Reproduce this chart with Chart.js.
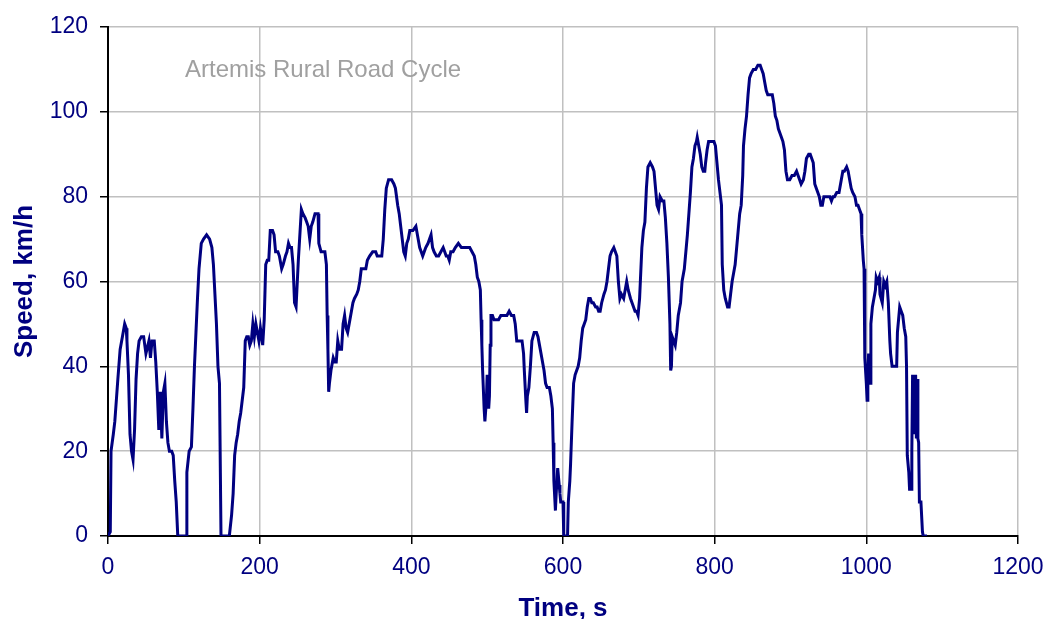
<!DOCTYPE html>
<html>
<head>
<meta charset="utf-8">
<title>Artemis Rural Road Cycle</title>
<script src="https://cdn.jsdelivr.net/npm/chart.js@4.4.1/dist/chart.umd.min.js"></script>
<style>
  html, body { margin: 0; padding: 0; background: #fff; }
  canvas { display: block; }
</style>
</head>
<body>
<canvas id="cycleChart" width="1047" height="619"></canvas>
<script>
// time (s) and speed (km/h)
const timeS = [
  0, 3, 4, 7, 9, 11, 13, 16, 19, 22, 24, 25, 27, 29, 31, 33, 35, 37, 39, 41, 44, 47, 50, 54, 56, 58, 61, 63, 65, 67, 69, 71, 73, 75, 77, 79, 81, 84, 86, 88, 90, 92,
  103, 104, 107, 110, 112, 114, 116, 118, 120, 123, 126, 130, 134, 137, 139, 141, 143, 145, 147, 149,
  160, 163, 165, 167, 169, 171, 173, 175, 177, 179, 181, 183, 185, 187, 189, 191, 193, 195, 197, 199,
  201, 204, 206, 208, 210, 212, 214, 217, 219, 221, 224, 226, 229, 231, 234, 236, 238, 240, 242, 244, 246, 248, 249,
  251, 253, 255, 257, 260, 262, 264, 266, 268, 270, 273, 277, 278, 281, 284, 286, 288, 289, 290, 291, 292, 294, 297, 299,
  301, 303, 305, 308, 310, 312, 314, 316, 319, 321, 323, 325, 328, 330, 332, 334, 336, 340, 342, 345, 349,
  353, 355, 358, 361, 363, 365, 367, 370, 374, 377, 379, 382, 384, 386, 388, 390, 392, 394, 396, 398,
  402, 406, 409, 411, 413, 415, 417, 419, 422, 424, 426, 428, 430, 433, 436, 439, 442, 444, 446, 448, 450,
  452, 455, 458, 462, 466, 470, 474, 477, 480, 483, 485, 487, 489, 491, 492, 493, 494, 496, 497, 499,
  500, 502, 503, 504, 505, 507, 509, 512, 515, 518, 522, 526, 529, 532, 535, 537, 539, 542, 546, 548, 549,
  551, 552, 553, 555, 557, 559, 562, 565, 567, 569, 571, 573, 575, 577, 579, 582, 584, 586, 587, 588, 590,
  591, 593, 595, 596, 597, 600, 601, 606, 607, 609, 610, 612, 614, 616, 618, 620, 622, 624, 626, 628, 630,
  632, 634, 636, 638, 640, 643, 645, 647, 649, 651, 654, 656, 658, 660, 662, 664, 667, 669, 671, 673, 675,
  677, 680, 682, 684, 686, 689, 691, 693, 695, 697, 699, 701, 702, 704, 706, 708, 710, 712, 715, 718, 720,
  722, 724, 726, 728, 731, 733, 735, 737, 739, 741, 742, 743, 744, 746, 748, 750, 752, 755, 757, 760, 762,
  764, 766, 768, 770, 772, 774, 776, 777, 779, 781, 783, 785, 787, 788, 790, 792, 795, 799, 801, 803, 805,
  807, 809, 810, 812, 814, 817, 819, 821, 823, 825, 827, 829, 831, 833, 835, 837, 838, 840, 842, 844, 846,
  848, 851, 854, 857, 860, 862, 864, 866, 868, 870, 873, 876, 878, 880, 882, 884, 886, 888, 890, 892, 894,
  896, 899, 902, 905, 908, 910, 912, 914, 917, 919, 921, 924, 926, 928, 930, 932, 934, 936, 938, 940, 942,
  944, 946, 949, 952, 954, 956, 958, 961, 964, 967, 969, 971, 974, 976, 978, 980, 982, 985, 987, 989, 991,
  993, 994, 996, 997, 998, 1000, 1001, 1002, 1003, 1004, 1005, 1006, 1008, 1010, 1012, 1013, 1015, 1017, 1018, 1021, 1023,
  1025, 1027, 1029, 1031, 1032, 1034, 1037, 1040, 1041, 1043, 1044, 1046, 1048, 1050, 1052, 1053, 1054, 1056, 1057, 1059, 1060,
  1061, 1062, 1063, 1064, 1065, 1066, 1067, 1068, 1069, 1070, 1072, 1074, 1075, 1080
];
const speedKmh = [
  0, 1, 20, 24, 27, 32, 37, 44, 47, 50, 49, 46, 38, 24, 20, 18, 25, 37, 43, 46, 47, 47, 43, 46, 42, 46, 46, 41, 34, 25, 34, 23, 34, 36, 27, 22, 20, 20, 19, 13, 8, 0,
  0, 15, 20, 21, 30, 40, 48, 56, 63, 69, 70, 71, 70, 68, 64, 57, 50, 40, 36, 0,
  0, 5, 10, 19, 22, 24, 27, 29, 32, 35, 46, 47, 47, 45, 46, 50, 47, 50, 48, 46,
  49, 45, 51, 64, 65, 65, 72, 72, 71, 67, 67, 66, 63, 64, 66, 67, 69, 68, 68, 64, 55, 54, 54,
  65, 71, 77, 76, 75, 74, 73, 70, 73, 74, 76, 76, 69, 67, 67, 67, 64, 52, 44, 34, 36, 39, 42, 41,
  41, 46, 44, 44, 50, 52, 49, 48, 51, 53, 55, 56, 57, 58, 60, 63, 63, 63, 65, 66, 67,
  67, 66, 66, 66, 70, 77, 82, 84, 84, 83, 82, 78, 76, 73, 70, 67, 66, 69, 70, 72,
  72, 73, 70, 68, 67, 66, 67, 68, 69, 70, 71, 68, 67, 66, 66, 67, 68, 67, 66, 66, 65,
  67, 67, 68, 69, 68, 68, 68, 68, 67, 66, 64, 61, 60, 58, 51, 45, 39, 30, 27, 32,
  38, 30, 33, 45, 52, 52, 51, 51, 51, 52, 52, 52, 53, 52, 52, 50, 46, 46, 46, 43, 39,
  32, 29, 33, 35, 40, 46, 48, 48, 47, 45, 43, 41, 39, 36, 35, 35, 33, 30, 22, 13, 6,
  10, 16, 12, 10, 8, 8, 0, 0, 8, 13, 17, 27, 36, 38, 39, 40, 42, 46, 49, 50, 51,
  54, 56, 56, 55, 55, 54, 54, 53, 53, 55, 57, 58, 60, 63, 66, 67, 68, 67, 66, 60, 56,
  57, 56, 58, 60, 58, 56, 55, 54, 53, 53, 52, 56, 60, 68, 72, 74, 82, 87, 88, 87, 86,
  82, 78, 77, 80, 79, 79, 75, 69, 61, 50, 39, 40, 47, 46, 45, 48, 52, 55, 60, 63, 67,
  71, 76, 81, 87, 89, 92, 93, 94, 92, 90, 87, 86, 86, 88, 91, 93, 93, 93, 92, 88, 84,
  81, 78, 64, 58, 56, 54, 54, 57, 60, 62, 64, 68, 72, 76, 78, 85, 92, 96, 99, 104, 108,
  109, 110, 110, 111, 111, 110, 109, 107, 105, 104, 104, 104, 102, 99, 98, 96, 95, 94, 93, 91, 86,
  84, 84, 85, 85, 86, 85, 84, 83, 84, 86, 89, 90, 90, 89, 88, 83, 82, 81, 80, 78, 78,
  80, 80, 80, 80, 79, 80, 80, 81, 81, 84, 86, 86, 87, 86, 84, 82, 81, 80, 78, 78, 77,
  76, 71, 65, 63, 42, 36, 32, 38, 43, 40, 36, 50, 54, 56, 58, 61, 60, 61, 57, 55, 60,
  59, 60, 55, 46, 43, 40, 40, 40, 48, 52, 54, 53, 52, 49, 47, 40, 19, 15, 11, 11, 20,
  38, 25, 38, 24, 38, 23, 37, 23, 22, 8, 8, 1, 0, 0
];

const xTicks = [0, 200, 400, 600, 800, 1000, 1200];
const yTicks = [0, 20, 40, 60, 80, 100, 120];
const chartTitle = 'Artemis Rural Road Cycle';

const points = timeS.map((t, i) => ({ x: t, y: speedKmh[i] }));

const navy = '#000080';
const fontFam = "'Liberation Sans', Arial, sans-serif";

// title sits inside the plot area, top left
const innerTitle = {
  id: 'innerTitle',
  afterDraw(chart) {
    const ctx = chart.ctx;
    const area = chart.chartArea;
    ctx.save();
    ctx.font = '24px ' + fontFam;
    ctx.fillStyle = '#a0a0a0';
    ctx.textAlign = 'left';
    ctx.textBaseline = 'middle';
    ctx.fillText(chartTitle, area.left + 77, area.top + 43);
    ctx.restore();
  }
};

const whiteBg = {
  id: 'whiteBg',
  beforeDraw(chart) {
    const ctx = chart.ctx;
    ctx.save();
    ctx.fillStyle = '#fff';
    ctx.fillRect(0, 0, chart.width, chart.height);
    ctx.restore();
  }
};

new Chart(document.getElementById('cycleChart'), {
  type: 'line',
  data: {
    datasets: [{
      label: 'Speed',
      data: points,
      borderColor: navy,
      borderWidth: 3,
      pointRadius: 0,
      tension: 0,
      fill: false
    }]
  },
  options: {
    responsive: false,
    animation: false,
    layout: { padding: { top: 27, right: 29, left: 0, bottom: 0 } },
    plugins: {
      legend: { display: false },
      tooltip: { enabled: false }
    },
    scales: {
      x: {
        type: 'linear',
        min: 0,
        max: 1200,
        afterBuildTicks: (scale) => { scale.ticks = xTicks.map(v => ({ value: v })); },
        afterFit: (scale) => {
          scale.height = 83;
          scale.paddingLeft = 0;
          scale.paddingRight = 0;
        },
        ticks: {
          color: navy,
          font: { family: fontFam, size: 23 },
          padding: 10,
          maxRotation: 0,
          callback: (v) => String(v)
        },
        grid: { color: '#c0c0c0', lineWidth: 1.5, tickColor: '#000', tickLength: 8 },
        border: { color: '#000', width: 2 },
        title: {
          display: true,
          text: 'Time, s',
          color: navy,
          font: { family: fontFam, size: 26, weight: 'bold' },
          padding: { top: 0, bottom: -5 }
        }
      },
      y: {
        min: 0,
        max: 120,
        afterBuildTicks: (scale) => { scale.ticks = yTicks.map(v => ({ value: v })); },
        afterFit: (scale) => { scale.width = 108; },
        ticks: {
          color: navy,
          font: { family: fontFam, size: 23 },
          padding: 12,
          callback: (v) => String(v)
        },
        grid: { color: '#c0c0c0', lineWidth: 1.5, tickColor: '#000', tickLength: 8 },
        border: { color: '#000', width: 2 },
        title: {
          display: true,
          text: 'Speed, km/h',
          color: navy,
          font: { family: fontFam, size: 26, weight: 'bold' },
          padding: { top: 9, bottom: 0 }
        }
      }
    }
  },
  plugins: [whiteBg, innerTitle]
});
</script>
</body>
</html>
